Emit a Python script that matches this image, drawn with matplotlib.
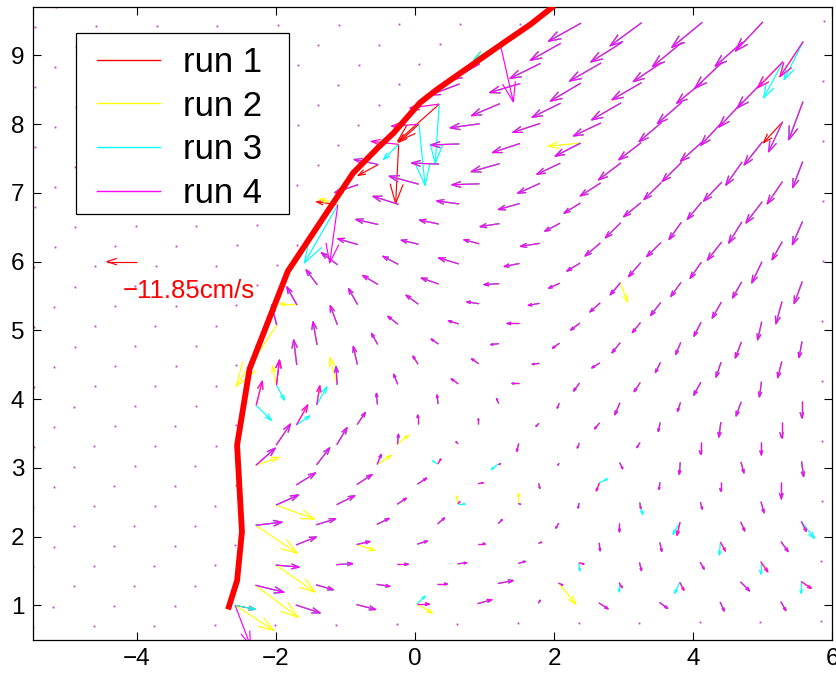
import numpy as np
import matplotlib
matplotlib.use("Agg")
import matplotlib.pyplot as plt
from matplotlib.collections import LineCollection
from matplotlib.lines import Line2D
from matplotlib.patches import Rectangle

plt.rcParams['font.family'] = ['Liberation Sans', 'DejaVu Sans']

# staggered measurement grid (axis units), point(j, k) = origin + k*STEP_K + j*STEP_J
GRID_ORIGIN = (-4.624, 0.6945)
STEP_K = (0.8722, 0.0061)
STEP_J = (0.2919, 0.2929)
N_ROWS = 32

# velocities in cm/s; row j (1..30) starts at column K_START[j-1]
K_START = [2, 2, 2, 2, 1, 1, 1, 0, 0, 0, -1, -1, -1, -1, -2,
           -2, -2, -2, -2, -2, -3, -3, -3, -3, -3, -3, -3, -3, -3, -2]

U_ROWS = [
    [8.0, 9.6, 7.6, 4.8, 5.6, 0.8, 3.6, 3.2, 1.6, 2.0],
    [11.2, 6.8, 5.2, 4.0, 6.0, 1.6, 1.2, 1.6, 3.6, 4.0],
    [9.2, 6.4, 4.4, 3.6, 2.8, 2.0, 0.8, 1.6, 2.8],
    [8.0, 5.2, 4.0, 2.8, 1.2, 0.4, 0.8, 2.0, 2.8],
    [10.4, 7.6, 4.8, 2.8, 1.6, -1.2, 0.0, -1.2, 1.6, 2.0],
    [8.8, 7.2, 3.6, 0.8, 0.8, -0.4, 0.4, 0.8, 1.2],
    [7.6, 6.0, 3.6, 2.0, 0.4, -1.2, -0.4, 0.0, 0.0],
    [7.6, 5.2, 1.6, 1.2, 0.8, -0.4, 1.2, -0.4, 1.2, 0.8],
    [5.6, 4.0, 0.4, -0.8, -0.8, -0.8, -1.2, 0.0, 0.0],
    [4.4, 3.2, 0.0, 0.0, -1.2, -2.0, -0.8, -0.8, 0.0],
    [2.4, 1.2, -0.4, -0.4, -0.8, -0.8, -2.0, -1.2, -2.0, 0.0],
    [1.2, -0.4, -1.6, -2.8, -2.8, -2.4, -2.4, -2.8, -0.8],
    [-1.2, -1.6, -2.0, -2.8, -2.8, -3.2, -2.0, -2.0, -1.6],
    [-1.6, -2.4, -2.8, -3.2, -2.8, -3.2, -2.0, -2.4, -1.2],
    [-2.0, -2.8, -4.0, -4.0, -4.8, -3.6, -3.2, -2.8, -1.6],
    [-4.0, -3.6, -4.8, -4.8, -4.4, -4.0, -4.0, -3.6, -2.4],
    [-4.4, -6.0, -6.8, -6.0, -4.4, -4.0, -4.0, -3.6, -3.2],
    [-6.4, -6.0, -8.0, -6.0, -5.2, -4.8, -4.4, -4.0],
    [-8.0, -6.8, -6.0, -7.6, -6.0, -5.6, -5.6, -4.0],
    [-8.8, -7.6, -7.6, -6.0, -6.0, -4.8, -5.2, -4.0],
    [-8.4, -10.0, -8.8, -8.4, -6.4, -6.8, -5.6, -6.4],
    [-9.2, -11.6, -10.8, -8.8, -8.0, -6.8, -7.2, -6.0],
    [-9.6, -10.8, -11.2, -9.2, -8.8, -7.6, -6.4, -4.0],
    [-10.8, -11.2, -10.8, -10.0, -8.8, -8.4, -7.2],
    [-10.8, -11.6, -10.8, -10.8, -8.8, -8.4, -5.6],
    [-11.6, -11.2, -11.2, -11.6, -9.6, -9.2, -5.6],
    [-11.6, -12.0, -12.0, -11.6, -10.0, -10.0],
    [-11.2, -12.0, -12.4, -11.2, -10.8, -10.0],
    [-10.4, -12.0, -12.0, -11.6, -10.8, -9.2],
    [-12.8, -12.4, -12.0, -10.8],
]

V_ROWS = [
    [-1.6, -3.2, -2.0, 0.0, 1.6, 1.2, -2.4, -2.4, -3.6, -3.6],
    [-2.8, -2.0, -0.8, 0.0, 1.2, -0.8, -2.0, -3.2, -3.6, -2.8],
    [-0.8, 0.4, 0.0, 0.4, 0.8, -0.4, -3.2, -2.8, -4.0],
    [3.2, 1.2, 1.2, 0.0, 0.4, -3.2, -3.6, -3.6, -4.0],
    [1.2, 2.4, 2.4, 2.4, 1.6, -2.0, -3.6, -5.2, -3.6, -4.0],
    [4.0, 3.6, 2.4, 0.8, -0.4, -2.0, -2.4, -2.8, -4.4],
    [4.8, 4.0, 2.4, 0.4, -2.0, -3.2, -2.8, -3.6, -6.8],
    [6.8, 6.8, 4.0, 2.0, 0.0, -0.8, -2.4, -4.8, -4.4, -6.0],
    [8.4, 6.8, 4.0, 0.8, -3.2, -2.0, -2.0, -4.8, -5.2],
    [8.0, 4.8, 3.6, 2.0, -1.2, -2.4, -3.6, -6.0, -6.4],
    [9.6, 7.6, 4.4, 3.6, 2.0, -2.0, -4.8, -3.6, -5.6, -6.4],
    [10.0, 7.2, 4.0, 2.0, 0.0, -3.2, -3.6, -5.2, -6.0],
    [10.0, 7.2, 3.2, 2.0, -0.4, -2.0, -4.0, -6.0, -6.4],
    [9.2, 4.4, 2.0, -0.4, -2.0, -4.0, -4.8, -6.4, -6.4],
    [8.0, 7.6, 3.2, 1.2, 0.0, -2.8, -4.0, -5.6, -7.2],
    [7.2, 6.4, 3.6, 0.8, -0.8, -3.6, -5.2, -6.4, -8.8],
    [6.0, 3.6, 2.4, -0.4, -2.0, -4.8, -5.6, -6.4, -8.8],
    [4.8, 3.2, 2.4, -1.2, -3.2, -5.6, -6.4, -8.4],
    [2.4, 1.6, 1.6, -1.2, -5.2, -5.6, -7.2, -7.2],
    [2.0, 1.6, -1.2, -3.2, -6.0, -6.8, -8.4, -9.2],
    [1.2, 3.2, 1.2, -2.4, -4.0, -5.6, -6.8, -8.4],
    [-3.2, 3.2, -0.4, -4.0, -5.2, -6.8, -7.6, -8.8],
    [2.0, 0.4, -3.2, -4.4, -6.8, -7.6, -9.2, -10.4],
    [1.2, -0.4, -3.6, -5.2, -6.8, -7.6, -9.2],
    [-0.8, -1.6, -3.6, -5.2, -7.6, -9.2, -12.0],
    [-1.6, -4.8, -5.6, -6.8, -8.4, -10.0, -15.2],
    [-4.4, -3.6, -7.2, -6.8, -8.4, -10.4],
    [-6.4, -6.0, -7.2, -7.6, -10.4, -10.4],
    [-6.4, -6.8, -7.6, -9.6, -9.6, -14.0],
    [-7.2, -9.2, -10.0, -11.6],
]

# vectors where one run differs from the others: (run, j, k, u, v)
RUN_DIFF = [
    (2, 1, 2, 15.2, -10.0), (4, 1, 2, 6.0, -16.0), (3, 1, 5, 3.2, 3.2),
    (2, 1, 5, 6.0, -3.6), (2, 2, 2, 16.8, -12.8), (2, 2, 7, 6.8, -8.4),
    (3, 2, 8, 0.0, -3.6), (3, 2, 9, -2.0, -4.4), (3, 2, 11, 0.0, -4.8),
    (2, 3, 2, 15.6, -10.8), (3, 3, 7, 0.4, -3.2), (3, 3, 10, 0.0, -4.8),
    (2, 4, 3, 7.2, -2.4), (3, 4, 9, -0.4, -5.2), (2, 5, 1, 16.4, -11.2),
    (3, 5, 8, -2.8, -4.8), (3, 5, 10, 5.2, -6.8), (2, 6, 1, 15.2, -5.6),
    (2, 6, 4, -0.4, 3.2), (3, 6, 4, 2.8, 0.0), (2, 6, 5, 0.0, 4.0),
    (3, 6, 7, 1.2, -4.8), (3, 7, 6, 3.2, 1.6), (2, 8, 0, 9.2, 3.2),
    (2, 8, 2, 5.6, 3.6), (3, 8, 3, -2.0, 1.2), (3, 8, 4, -2.8, -2.4),
    (2, 9, 2, 4.4, 3.6), (3, 10, 0, 5.2, 3.6), (3, 11, -1, 6.0, -6.0),
    (3, 11, 0, 4.0, 7.2), (2, 12, -1, -1.6, 7.6), (3, 12, -1, 3.2, -6.0),
    (2, 12, 0, -2.8, 10.8), (2, 15, -2, -16.0, -24.4), (2, 16, -2, -6.8, 0.4),
    (2, 17, 3, 2.8, -7.6), (2, 21, -3, -7.2, 2.4), (3, 21, -3, -13.2, -23.2),
    (4, 21, -3, -3.2, -23.2), (1, 23, -3, -8.0, -4.4), (1, 24, -3, -1.2, -23.6),
    (3, 24, -3, -6.0, -6.0), (2, 24, 0, -12.8, -1.2), (1, 25, -3, -8.0, -7.2),
    (3, 25, -3, 2.4, -24.4), (1, 25, 3, -7.6, -8.4), (1, 26, -3, -16.4, -14.8),
    (3, 26, -3, -1.6, -23.6), (3, 28, 2, -7.6, -14.4), (4, 29, -3, 5.2, -23.2),
    (3, 29, 2, -7.6, -15.2),
]

RUN_LABELS = ['run 1', 'run 2', 'run 3', 'run 4']
RUN_COLORS = ['#ff0000', '#ffff00', '#00ffff', '#ff00ff']

# front line
FRONT_X = [-2.69, -2.56, -2.49, -2.56, -2.38, -1.83, -1.18, -0.89, -0.51,
           -0.31, 0.07, 0.31, 0.79, 1.27, 1.66, 2.00]
FRONT_Y = [0.94, 1.36, 2.07, 3.33, 4.44, 5.86, 6.85, 7.29, 7.68,
           7.87, 8.31, 8.50, 8.84, 9.18, 9.45, 9.72]

REF_SPEED = -11.85      # cm/s, scale arrow
REF_POS = (-4.0, 6.0)
REF_TEXT = '\u221211.85cm/s'

SCALE = 0.0365          # axis units per cm/s


def grid_point(j, k):
    return (GRID_ORIGIN[0] + k * STEP_K[0] + j * STEP_J[0],
            GRID_ORIGIN[1] + k * STEP_K[1] + j * STEP_J[1])


def arrow_segments(x, y, u, v, alpha=0.33, beta=0.33):
    """shaft + open head, drawn like matlab's quiver"""
    du, dv = u * SCALE, v * SCALE
    tx, ty = x + du, y + dv
    head = [(tx - alpha * (du + beta * dv), ty - alpha * (dv - beta * du)),
            (tx, ty),
            (tx - alpha * (du - beta * dv), ty - alpha * (dv + beta * du))]
    return [[(x, y), (tx, ty)], head]


def build_field():
    base = {}
    for j in range(1, 31):
        k0 = K_START[j - 1]
        for i, (u, v) in enumerate(zip(U_ROWS[j - 1], V_ROWS[j - 1])):
            base[(j, k0 + i)] = (u, v)
    runs = [dict(base) for _ in range(4)]
    for run, j, k, u, v in RUN_DIFF:
        runs[run - 1][(j, k)] = (u, v)
    return base, runs


def main():
    base, runs = build_field()

    fig = plt.figure(figsize=(8.37, 6.73), dpi=100)
    ax = fig.add_axes([0.0391, 0.0495, 0.955, 0.9397])
    ax.set_xlim(-5.5, 6.0)
    ax.set_ylim(0.5, 9.7)

    # zero vectors show up as dots
    dots = []
    for j in range(N_ROWS):
        for k in range(-14, 14):
            x, y = grid_point(j, k)
            if -5.55 <= x <= 6.05 and 0.45 <= y <= 9.75 and base.get((j, k), (0, 0)) == (0, 0):
                dots.append((x, y))
    dots = np.array(dots)
    ax.plot(dots[:, 0], dots[:, 1], linestyle='none', marker='s', ms=1.3,
            mec='none', mfc='#c040c8', zorder=1)

    for field, color in zip(runs, RUN_COLORS):
        segs = []
        for (j, k), (u, v) in field.items():
            if u == 0 and v == 0:
                continue
            x, y = grid_point(j, k)
            segs.extend(arrow_segments(x, y, u, v))
        ax.add_collection(LineCollection(segs, colors=color, linewidths=0.85, zorder=2))

    ax.plot(FRONT_X, FRONT_Y, color='#ff0000', lw=4.2, solid_capstyle='butt', zorder=3)

    # scale arrow
    ax.add_collection(LineCollection(arrow_segments(REF_POS[0], REF_POS[1], REF_SPEED, 0.0),
                                     colors='#ff0000', linewidths=0.85, zorder=3))
    ax.text(-4.21, 5.47, REF_TEXT, color='#ff0000', fontsize=18.5, va='baseline', ha='left')

    # legend with a square white box
    ax.add_patch(Rectangle((0.0542, 0.6727), 0.2661, 0.2867, transform=ax.transAxes,
                           facecolor='white', edgecolor='black', lw=0.9, zorder=4))
    handles = [Line2D([], [], color=c, lw=1.0) for c in RUN_COLORS]
    leg = ax.legend(handles, RUN_LABELS, loc='upper left', bbox_to_anchor=(0.0801, 0.9390),
                    frameon=False, fontsize=25, borderpad=0, borderaxespad=0,
                    handlelength=1.82, handletextpad=0.65, labelspacing=0.31)
    leg.set_zorder(5)

    ax.set_xticks([-4, -2, 0, 2, 4, 6])
    ax.set_yticks(range(1, 10))
    ax.tick_params(direction='in', top=True, right=True, length=5.5, width=0.8,
                   labelsize=17.5, pad=6)
    for s in ax.spines.values():
        s.set_linewidth(0.9)

    fig.savefig('out.png', dpi=100)
    plt.close(fig)


if __name__ == "__main__":
    main()
